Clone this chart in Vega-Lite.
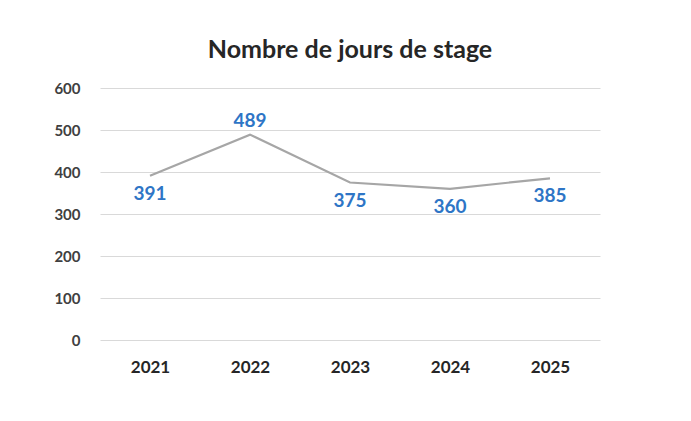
{
  "$schema": "https://vega.github.io/schema/vega-lite/v6.json",
  "width": 500,
  "height": 252,
  "autosize": {"type": "none"},
  "padding": {"left": 100, "top": 88, "right": 91, "bottom": 81},
  "background": "white",
  "title": {
    "text": "Nombre de jours de stage",
    "font": "Lato",
    "fontSize": 25,
    "fontWeight": "bold",
    "color": "#262626",
    "anchor": "middle",
    "offset": 18
  },
  "data": {
    "values": [
      {"year": "2021", "days": 391},
      {"year": "2022", "days": 489},
      {"year": "2023", "days": 375},
      {"year": "2024", "days": 360},
      {"year": "2025", "days": 385}
    ]
  },
  "encoding": {
    "x": {
      "field": "year",
      "type": "ordinal",
      "scale": {"padding": 0.5},
      "axis": {
        "title": null,
        "labelAngle": 0,
        "labelFont": "Lato",
        "labelFontSize": 17,
        "labelFontWeight": "bold",
        "labelColor": "#262626",
        "labelPadding": 19,
        "domain": false,
        "ticks": false
      }
    },
    "y": {
      "field": "days",
      "type": "quantitative",
      "scale": {"domain": [0, 600]},
      "axis": {
        "title": null,
        "values": [0, 100, 200, 300, 400, 500, 600],
        "labelFont": "Lato",
        "labelFontSize": 15,
        "labelFontWeight": "bold",
        "labelColor": "#404040",
        "labelPadding": 20,
        "domain": false,
        "ticks": false,
        "gridColor": "#d9d9d9",
        "gridWidth": 1.2
      }
    }
  },
  "layer": [
    {
      "mark": {"type": "line", "color": "#a6a6a6", "strokeWidth": 2.2}
    },
    {
      "transform": [{"filter": "datum.year == '2022'"}],
      "mark": {"type": "text", "dy": -14, "font": "Lato", "fontSize": 19, "fontWeight": "bold", "color": "#2e75c6"},
      "encoding": {"text": {"field": "days", "type": "quantitative"}}
    },
    {
      "transform": [{"filter": "datum.year != '2022'"}],
      "mark": {"type": "text", "dy": 18, "font": "Lato", "fontSize": 19, "fontWeight": "bold", "color": "#2e75c6"},
      "encoding": {"text": {"field": "days", "type": "quantitative"}}
    }
  ],
  "config": {"view": {"stroke": null}}
}
